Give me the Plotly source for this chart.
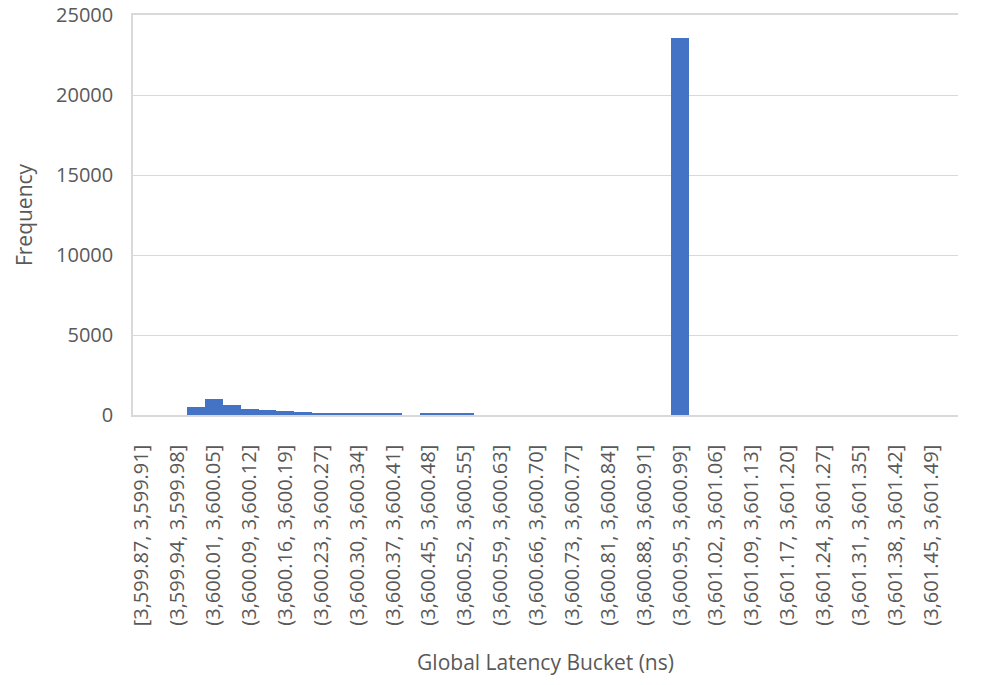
import plotly.graph_objects as go

# 46 histogram buckets (index 0..45); labels shown on every other bucket
bucket_index = list(range(46))
frequency = [0, 0, 0, 480, 980, 650, 400, 330, 260, 190, 130, 120, 70, 70, 70, 0,
             70, 70, 70, 0, 0, 0, 0, 0, 0, 0, 0, 0, 0, 0, 23550, 0, 0, 0, 0, 0,
             0, 0, 0, 0, 0, 0, 0, 0, 0, 0]

tick_positions = list(range(0, 46, 2))
tick_labels = [
    "[3,599.87, 3,599.91]", "(3,599.94, 3,599.98]", "(3,600.01, 3,600.05]",
    "(3,600.09, 3,600.12]", "(3,600.16, 3,600.19]", "(3,600.23, 3,600.27]",
    "(3,600.30, 3,600.34]", "(3,600.37, 3,600.41]", "(3,600.45, 3,600.48]",
    "(3,600.52, 3,600.55]", "(3,600.59, 3,600.63]", "(3,600.66, 3,600.70]",
    "(3,600.73, 3,600.77]", "(3,600.81, 3,600.84]", "(3,600.88, 3,600.91]",
    "(3,600.95, 3,600.99]", "(3,601.02, 3,601.06]", "(3,601.09, 3,601.13]",
    "(3,601.17, 3,601.20]", "(3,601.24, 3,601.27]", "(3,601.31, 3,601.35]",
    "(3,601.38, 3,601.42]", "(3,601.45, 3,601.49]",
]

FONT = "Open Sans"
GRAY = "#595959"

fig = go.Figure(go.Bar(
    x=bucket_index, y=frequency,
    marker=dict(color="#4472C4", line=dict(width=0)),
    width=1.0,
))

fig.update_layout(
    width=998, height=685,
    margin=dict(l=133, r=40, t=15, b=270),
    paper_bgcolor="white", plot_bgcolor="white",
    bargap=0,
    showlegend=False,
    font=dict(family=FONT, color=GRAY, size=18),
)

fig.update_xaxes(
    range=[-0.5, 45.5], automargin=False,
    tickmode="array", tickvals=tick_positions, ticktext=tick_labels,
    tickangle=-90,
    tickfont=dict(family=FONT, size=20, color=GRAY),
    showgrid=False, zeroline=False,
    showline=True, linecolor="#d9d9d9", linewidth=1.5, mirror=True,
    ticks="", ticklabelstandoff=20,
    title=dict(text="Global Latency Bucket (ns)", font=dict(family=FONT, size=21, color=GRAY), standoff=30),
)

fig.update_yaxes(
    range=[0, 25000], dtick=5000, tickformat="d", automargin=False,
    tickfont=dict(family=FONT, size=20, color=GRAY),
    showgrid=True, gridcolor="#d9d9d9", gridwidth=1,
    zeroline=False,
    showline=True, linecolor="#d9d9d9", linewidth=1.5,
    ticks="", ticklabelstandoff=14,
    title=dict(text="Frequency", font=dict(family=FONT, size=21, color=GRAY), standoff=18),
)

fig.write_html(
    "out.html",
    config={"displayModeBar": False},
    post_script="document.body.style.margin='0';document.body.style.padding='0';",
)
